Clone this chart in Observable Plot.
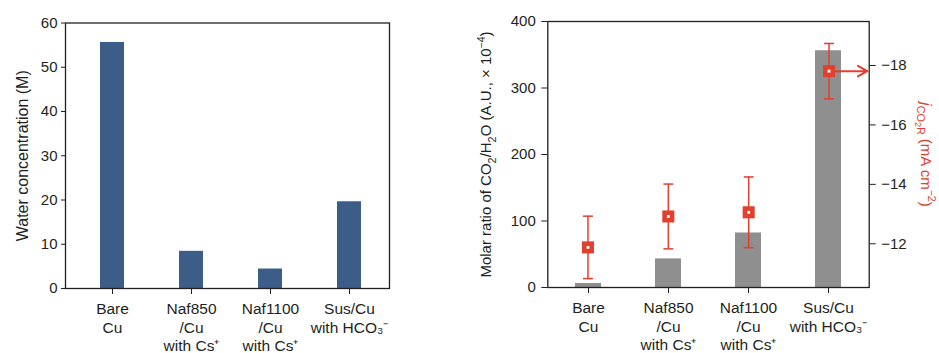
<!DOCTYPE html>
<html>
<head>
<meta charset="utf-8">
<script src="https://cdn.jsdelivr.net/npm/d3@7"></script>
<script src="https://cdn.jsdelivr.net/npm/@observablehq/plot@0.6"></script>
<style>
  body { margin: 0; background: #fff; }
  #fig { position: relative; width: 939px; height: 353px; overflow: hidden; }
  .panel { position: absolute; top: 0; }
</style>
</head>
<body>
<div id="fig">
  <div class="panel" id="left" style="left:0;width:440px;"></div>
  <div class="panel" id="right" style="left:440px;width:499px;"></div>
  <div class="panel" id="overlay" style="left:440px;width:499px;"></div>
</div>
<script>
// Electrode configurations
const categories = ["Bare Cu", "Naf850/Cu with Cs+", "Naf1100/Cu with Cs+", "Sus/Cu with HCO3-"];
const tickLabels = ["Bare\nCu", "Naf850\n/Cu\nwith Cs⁺", "Naf1100\n/Cu\nwith Cs⁺", "Sus/Cu\nwith HCO₃⁻"];

// Left panel: water concentration (M)
const waterConc = [55.6, 8.4, 4.4, 19.6];
const waterTicks = [0, 10, 20, 30, 40, 50, 60];

// Right panel: CO2/H2O molar ratio (bars) and partial current density (markers)
const molarRatio = [6, 43, 82, 356];
const ratioTicks = [0, 100, 200, 300, 400];
const jCO2R = [-11.88, -12.92, -13.06, -17.81];
const jErr = [1.05, 1.09, 1.19, 0.93];
const jTicks = [-18, -16, -14, -12];
const jDomain = [-10.53, -19.48];
const jX = [-0.5, 3.5];

// Axis titles (plain text, then the rich version with sub/superscripts)
const waterLabel = "Water concentration (M)";
const ratioParts = [["Molar ratio of CO"], ["2", "sub"], ["/H"], ["2", "sub"], ["O (A.U., × 10"], ["−4", "sup"], [")"]];
const jParts = [["j", "it"], ["CO", "sub"], ["2", "sub2"], ["R", "sub"], [" (mA cm"], ["−2", "sup"], [")"]];

const water = categories.map((cat, i) => ({cat, value: waterConc[i]}));
const ratio = categories.map((cat, i) => ({cat, value: molarRatio[i]}));
const current = categories.map((cat, i) => ({cat, i, j: jCO2R[i], err: jErr[i]}));

const red = "#e2402f";
const ink = "#231f20";
const style = {fontFamily: '"Liberation Sans", Arial, Helvetica, sans-serif', fontSize: "15px", color: ink, background: "transparent", overflow: "visible"};
const fmtTick = d => tickLabels[categories.indexOf(d)];
const plainOf = parts => parts.map(p => p[0]).join("");

// horizontal cap for error bars
const cap = {draw(ctx, size) { const w = Math.sqrt(size) / 2; ctx.moveTo(-w, 0); ctx.lineTo(w, 0); }};

const leftPlot = Plot.plot({
  width: 440, height: 353,
  marginLeft: 65, marginRight: 51, marginTop: 22.5, marginBottom: 65,
  style,
  x: {domain: categories, paddingInner: 0.695, paddingOuter: 0.381, align: 0.558, axis: null},
  y: {domain: [0, 60], axis: null},
  marks: [
    Plot.barY(water, {x: "cat", y: "value", fill: "#3b5d88"}),
    Plot.frame({stroke: ink, strokeWidth: 1.3}),
    Plot.axisY(waterTicks, {tickSize: 4, tickPadding: 4, label: null}),
    Plot.axisX({tickSize: 6, tickPadding: 7, tickFormat: fmtTick, lineHeight: 1.17, fontSize: 15.5, label: null}),
    Plot.text([waterLabel], {frameAnchor: "left", textAnchor: "middle", rotate: -90, dx: -49, lineAnchor: "top", fontSize: 16})
  ]
});

const rightPlot = Plot.plot({
  width: 499, height: 353,
  marginLeft: 107.3, marginRight: 70.3, marginTop: 21, marginBottom: 66,
  style,
  x: {domain: categories, paddingInner: 0.67, paddingOuter: 0.33, axis: null},
  y: {domain: [0, 400], axis: null},
  marks: [
    Plot.barY(ratio, {x: "cat", y: "value", fill: "#8f8f8f"}),
    Plot.frame({stroke: ink, strokeWidth: 1.3}),
    Plot.axisY(ratioTicks, {tickSize: 6, tickPadding: 6, label: null}),
    Plot.axisX({tickSize: 6, tickPadding: 7, tickFormat: fmtTick, lineHeight: 1.17, fontSize: 15.5, label: null}),
    Plot.text([plainOf(ratioParts)], {frameAnchor: "left", textAnchor: "middle", rotate: -90, dx: -67, lineAnchor: "top", fontSize: 15})
  ]
});

const overlayPlot = Plot.plot({
  width: 499, height: 353,
  marginLeft: 107.3, marginRight: 70.3, marginTop: 21, marginBottom: 66,
  style,
  x: {domain: jX, axis: null},
  y: {domain: jDomain, axis: null},
  marks: [
    Plot.ruleX(current, {x: "i", y1: d => d.j + d.err, y2: d => d.j - d.err, stroke: red, strokeWidth: 1.5}),
    Plot.dot(current, {x: "i", y: d => d.j + d.err, symbol: cap, r: 5.6, stroke: red, strokeWidth: 1.5}),
    Plot.dot(current, {x: "i", y: d => d.j - d.err, symbol: cap, r: 5.6, stroke: red, strokeWidth: 1.5}),
    Plot.arrow(current.filter(d => d.cat === categories[3]), {
      x1: "i", x2: () => jX[1], y1: "j", y2: "j",
      stroke: red, strokeWidth: 2, headLength: 8, insetStart: 6, insetEnd: 2
    }),
    Plot.dot(current, {x: "i", y: "j", symbol: "square", r: 6.8, fill: red}),
    Plot.dot(current, {x: "i", y: "j", symbol: "square", r: 1.6, fill: "#fff"}),
    Plot.axisY(jTicks, {anchor: "right", tickSize: 6, tickPadding: 6, label: null}),
    Plot.text([plainOf(jParts)], {frameAnchor: "right", textAnchor: "middle", rotate: 90, dx: 57, fill: red, fontSize: 15})
  ]
});

// Replace a plain text label with tspans carrying italics, sub- and superscripts
function enrich(svg, parts, fontSize) {
  const plain = plainOf(parts);
  const el = [...svg.querySelectorAll("text")].find(t => t.textContent === plain);
  if (!el) return;
  el.textContent = "";
  const shifts = {sub: 0.28, sub2: 0.45, sup: -0.42};
  const sizes = {sub: 0.72, sub2: 0.6, sup: 0.7};
  let cur = 0;
  for (const [t, kind] of parts) {
    const ts = document.createElementNS("http://www.w3.org/2000/svg", "tspan");
    ts.textContent = t;
    const target = (shifts[kind] || 0) * fontSize;
    ts.setAttribute("dy", (target - cur).toFixed(2));
    cur = target;
    if (sizes[kind]) ts.setAttribute("font-size", (sizes[kind] * fontSize).toFixed(2));
    if (kind === "it") ts.setAttribute("font-style", "italic");
    el.appendChild(ts);
  }
}
enrich(rightPlot, ratioParts, 15);
enrich(overlayPlot, jParts, 15);

document.getElementById("left").appendChild(leftPlot);
document.getElementById("right").appendChild(rightPlot);
document.getElementById("overlay").appendChild(overlayPlot);
</script>
</body>
</html>
